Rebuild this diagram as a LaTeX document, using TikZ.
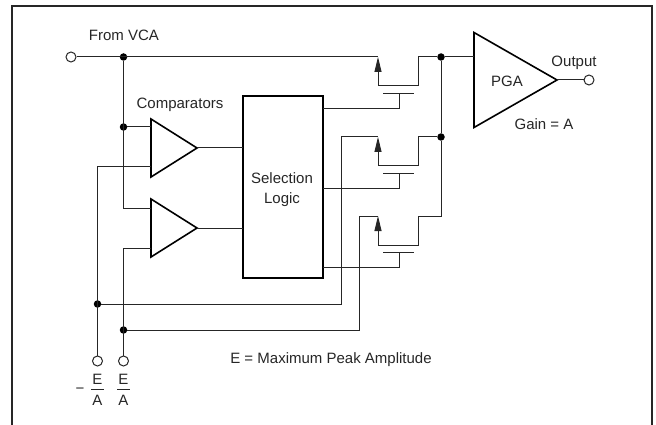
\documentclass[tikz,border=0pt]{standalone}
\usepackage{fontspec}
\setmainfont{Liberation Sans}
\usetikzlibrary{arrows.meta, positioning, calc, shapes.geometric}
\tikzset{
  every node/.style={font=\fontsize{15}{20}\selectfont, text=black!85},
  wire/.style={draw=black!85, line width=1pt},
  amp/.style={
    draw=black, isosceles triangle, isosceles triangle stretches, shape border rotate=0,
    line width=1.6pt, inner sep=0pt, outer sep=0pt, fill=white, anchor=lower side
  },
  logic/.style={
    draw=black, rectangle, line width=1.6pt, inner sep=0pt, outer sep=0pt,
    minimum width=80pt, minimum height=182pt
  },
  frame/.style={draw=black!85, line width=2.4pt},
  junction/.style={circle, fill=black, inner sep=0pt, minimum size=7.5pt},
  port/.style={circle, draw=black!85, line width=1pt, fill=white, inner sep=0pt, minimum size=10pt},
  fracbar/.style={fill=black!85, inner sep=0pt, minimum width=13pt, minimum height=1pt},
  gatebar/.style={fill=black!85, inner sep=0pt, minimum width=31pt, minimum height=1pt},
  arr/.style={wire, -{Triangle[length=15pt,width=7pt]}},
}
\begin{document}
\begin{tikzpicture}[x=1pt,y=-1pt]
        \useasboundingbox (0,0) rectangle (656,425);
        % frame
        \draw[frame] (12,425) |- (652,6) -- (652,425);
        % nodes
        \node[amp, minimum width=58pt, minimum height=46pt] (cmpa) at (151,148) {};
        \node[amp, minimum width=58pt, minimum height=46pt] (cmpb) at (151,228) {};
        \node[amp, minimum width=95pt, minimum height=83pt] (pga) at (474,80) {};
        \node[logic] (sel) at (283,187) {};
        \node[port] (vca) at (71,57) {};
        \node[port] (out) at (589,80) {};
        \node[port] (neg) at (97.5,361) {};
        \node[port] (pos) at (123.5,361) {};
        \node[junction] (jtop) at (123.5,57) {};
        \node[junction] (jcmp) at (123.5,127) {};
        \node[junction] (jneg) at (97.5,304) {};
        \node[junction] (jpos) at (123.5,330) {};
        \node[junction] (jpga) at (441,57) {};
        \node[junction] (jmid) at (441,137) {};
        % labels
        \node[align=center] (seltext) at (282,190) {Selection\\Logic};
        \node (vcatext) at (124,35) {From VCA};
        \node (cmptext) at (180,105) {Comparators};
        \node (pgatext) at (507,81) {PGA};
        \node (outtext) at (574,63) {Output};
        \node (gaintext) at (544,124) {Gain = A};
        \node (note) at (331,360) {E = Maximum Peak Amplitude};
        \node[fracbar] (nbar) at (97.5,389) {};
        \node[above=0pt of nbar] (ne) {E};
        \node[below=2pt of nbar] (na) {A};
        \node[left=3pt of nbar, yshift=-2pt] (nminus) {−};
        \node[fracbar] (pbar) at (123.5,389) {};
        \node[above=0pt of pbar] (pe) {E};
        \node[below=2pt of pbar] (pa) {A};
        % switches
        \foreach \n/\y in {a/57,b/137,c/216} {
          \coordinate (src\n) at (378,\y);
          \coordinate (drn\n) at (418,\y);
          \coordinate (chs\n) at (378,\y+29);
          \coordinate (chd\n) at (418,\y+29);
          \node[gatebar] (bar\n) at (398.5,\y+36.5) {};
          \coordinate (gate\n) at (399,\y+51.5);
          \draw[arr] (chs\n) -- (src\n);
          \draw[wire] (chs\n) -- (chd\n) -- (drn\n);
          \draw[wire] (bar\n.south -| gate\n) -- (gate\n) -- (gate\n -| sel.east);
        }
        % arrows
        \draw[wire] (vca) -- (srca);
        \draw[wire] (jtop) |- (cmpb.lower side |- 0,208);
        \draw[wire] (jcmp) -- (jcmp -| cmpa.lower side);
        \draw[wire] (neg) |- (cmpa.lower side |- 0,167);
        \draw[wire] (pos) |- (cmpb.lower side |- 0,248);
        \draw[wire] (cmpa.apex) -- (cmpa.apex -| sel.west);
        \draw[wire] (cmpb.apex) -- (cmpb.apex -| sel.west);
        \draw[wire] (drna) -- (jpga) -- (jpga -| pga.lower side);
        \draw[wire] (drnb) -- (jmid);
        \draw[wire] (jpga) -- (jmid) |- (drnc);
        \draw[wire] (pga.apex) -- (out);
        \draw[wire] (jneg) -| (srcb -| 341,0) -- (srcb);
        \draw[wire] (jpos) -| (srcc -| 359,0) -- (srcc);
\end{tikzpicture}
\end{document}
